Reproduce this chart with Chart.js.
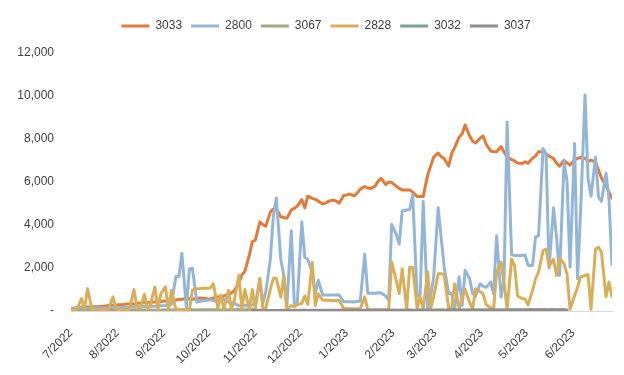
<!DOCTYPE html>
<html>
<head>
<meta charset="utf-8">
<script src="https://cdn.jsdelivr.net/npm/chart.js@4.4.1/dist/chart.umd.min.js"></script>
<style>
    html, body { margin: 0; padding: 0; background: #ffffff; }
    #wrap { width: 624px; height: 375px; }
</style>
</head>
<body>
<div id="wrap"><canvas id="canvas"></canvas></div>
<script>
// trading days, sampled Mon / Wed / Fri, counted from 2022-07-04
var firstDay = '2022-07-04';
var weekCount = 52;
var weekDays = [0, 2, 4];

// month ticks on the date axis
var tickDates = ['2022-07-04', '2022-08-04', '2022-09-04', '2022-10-04', '2022-11-04', '2022-12-04',
    '2023-01-04', '2023-02-04', '2023-03-04', '2023-04-04', '2023-05-04', '2023-06-04'];
var tickLabels = ['7/2022', '8/2022', '9/2022', '10/2022', '11/2022', '12/2022',
    '1/2023', '2/2023', '3/2023', '4/2023', '5/2023', '6/2023'];

var seriesNames = ['3033', '2800', '3067', '2828', '3032', '3037'];

var s3033 = [
    120, 140, 150, 160, 170, 185, 195, 200, 200, 220, 230, 255, 265, 280, 290, 300, 325, 325,
    325, 350, 370, 380, 395, 405, 420, 430, 440, 465, 480, 490, 510, 535, 550, 580, 570, 550,
    580, 605, 590, 570, 560, 605, 650, 675, 700, 770, 840, 950, 1300, 1670, 1840, 2600, 3230, 3300,
    4140, 4020, 3950, 4600, 4740, 4780, 4380, 4350, 4310, 4700, 4770, 4880, 5180, 4800, 5340,
    5240, 5200, 5110, 4980, 5020, 5110, 5160, 5110, 5020, 5370, 5400, 5440, 5350, 5490, 5670,
    5790, 5720, 5700, 5810, 6040, 6170, 5880, 6000, 5980, 5810, 5700, 5630, 5630, 5630, 5530,
    5320, 5320, 5320, 6320, 6740, 7160, 7350, 7180, 7090, 6740, 7330, 7600, 8090, 8230, 8650,
    8140, 7900, 7810, 8040, 8140, 7770, 7440, 7410, 7410, 7650, 7390, 7160, 7040, 6980, 6880,
    6860, 6940, 6870, 7110, 7210, 7410, 7410, 7320, 7210, 7090, 6880, 6740, 7000, 6880, 6790,
    7020, 7100, 7140, 7110, 6940, 7020, 6930, 6560, 6180, 5840, 5530, 5250
];
var s2800 = [
    100, 100, 120, 120, 100, 120, 150, 130, 150, 150, 130, 150, 150, 180, 150, 170, 160, 180,
    200, 180, 200, 220, 200, 230, 220, 250, 240, 260, 280, 300, 1620, 1600, 2680, 150, 1950, 1990,
    420, 450, 480, 500, 520, 480, 450, 500, 560, 420, 380, 350, 250, 200, 280, 220, 300, 250,
    1500, 350, 900, 2400, 4400, 5260, 2400, 1650, 200, 3730, 350, 380, 4150, 2500, 2400,
    1800, 800, 1430, 740, 740, 740, 740, 740, 740, 430, 430, 430, 420, 450, 450,
    2650, 820, 820, 830, 850, 840, 700, 500, 4030, 3570, 3110, 4650, 4700, 4720, 5410,
    660, 750, 5100, 100, 700, 1580, 4800, 3420, 2050, 810, 810, 100, 1580, 250, 1890,
    1500, 810, 700, 1270, 1150, 1100, 1350, 800, 3500, 650, 1500, 8790, 2620, 2580, 2580,
    2580, 2600, 2120, 2120, 3450, 3500, 7560, 7330, 2000, 4800, 3420, 1650, 6950, 6030, 2040,
    7790, 1500, 4550, 10050, 6180, 5340, 7150, 5300, 5100, 6410, 5200, 2150
];
var s3067 = [
    20, 25, 30, 30, 25, 30, 35, 30, 30, 35, 40, 35, 30, 35, 40, 40, 35, 40,
    45, 40, 40, 45, 50, 45, 40, 45, 50, 50, 45, 50, 55, 50, 50, 55, 60, 55,
    50, 55, 60, 60, 55, 60, 55, 50, 55, 60, 55, 60, 65, 60, 55, 60, 65, 60
];
var s2828 = [
    60, 60, 80, 580, 100, 1040, 80, 60, 60, 60, 60, 80, 660, 90, 60, 60, 80, 60,
    1000, 200, 100, 780, 100, 300, 1120, 100, 820, 1120, 80, 970, 80, 60, 60, 80, 60, 970,
    1040, 1040, 1060, 1060, 1070, 1270, 140, 740, 100, 950, 80, 500, 1650, 100, 1000, 80, 1000, 100,
    1520, 100, 150, 1000, 1520, 1520, 650, 1650, 80, 250, 200, 300, 350, 700, 300,
    2270, 250, 800, 500, 500, 500, 480, 500, 490, 120, 120, 110, 100, 100, 100,
    660, 80, 60, 60, 60, 60, 60, 60, 2270, 1430, 810, 1960, 100, 2040, 2040,
    140, 660, 100, 1810, 140, 660, 1730, 1730, 1700, 140, 140, 1270, 100, 600, 1000,
    400, 100, 1040, 900, 800, 300, 150, 100, 1810, 2270, 1300, 100, 2420, 2100, 700,
    580, 550, 280, 960, 1500, 1810, 2810, 2880, 2100, 2400, 1650, 2450, 2200, 1700, 80,
    700, 1100, 1580, 1650, 1700, 80, 2880, 2960, 2730, 660, 1350, 660
];
var s3032 = [
    null, null, null, null, null, null, null, null, null, null, null, null, null, null, null, null, null, null,
    null, null, null, null, null, null, null, null, null, null, null, null, null, null, null, null, null, null,
    null, null, null, null, null, null, null, null, null, null, null, null, null, null, null, null, 10, 10,
    10, 15, 15, 15, 10, 15, 15, 20, 15, 15, 20, 20, 15, 20, 20, 20, 15, 20,
    20, 25, 20, 20, 25, 20, 20, 25, 25, 20, 25, 25, 20, 25, 25, 30, 25, 25,
    30, 25, 30, 30, 25, 30, 30, 30, 25, 30, 35, 30, 30, 35, 30, 30, 35, 35,
    30, 35, 35, 30, 35, 35, 40, 35, 35, 40, 35, 40, 40, 35, 40, 40, 35, 40,
    40, 45, 40, 40, 45, 40, 45, 45, 40, 45, 45, 40, 45, 45, 40, 45
];
var s3037 = [
    null, null, null, null, null, null, null, null, null, null, null, null, null, null, null, null, null, null,
    null, null, null, null, null, null, null, null, null, null, null, null, null, null, null, null, null, null,
    null, null, null, null, null, null, null, null, null, null, null, null, null, null, null, null, 20, 20,
    25, 20, 25, 25, 20, 25, 25, 30, 25, 25, 30, 25, 30, 30, 25, 30, 30, 25, 30,
    30, 35, 30, 30, 35, 30, 35, 35, 30, 35, 35, 30, 35, 35, 40, 35, 35, 40,
    35, 40, 40, 35, 40, 40, 45, 40, 40, 45, 40, 45, 45, 40, 45, 45, 40, 45,
    45, 50, 45, 45, 50, 45, 50, 50, 45, 50, 50, 45, 50, 50, 45, 50, 50, 55,
    50, 50, 55, 50, 55, 55, 50, 55, 55, 50, 55, 55, 50, 55, 55, 50
];

var colors = ['#E07B39', '#93B6D8', '#A3A882', '#D9AE58', '#78A394', '#928B8B'];

function dayNumber(str) {
    var p = str.split('-');
    var a = firstDay.split('-');
    return (Date.UTC(+p[0], p[1] - 1, +p[2]) - Date.UTC(+a[0], a[1] - 1, +a[2])) / 86400000;
}

var days = [];
for (var w = 0; w < weekCount; w++) {
    weekDays.forEach(function (d) { days.push(w * 7 + d); });
}
var tickDays = tickDates.map(dayNumber);

function makeLine(i, values) {
    var pts = [];
    values.forEach(function (v, j) {
        if (v !== null) pts.push({ x: days[j], y: v });
    });
    return {
        label: seriesNames[i],
        data: pts,
        borderColor: colors[i],
        backgroundColor: colors[i],
        borderWidth: 3,
        pointRadius: 0,
        pointHoverRadius: 0,
        tension: 0,
        borderJoinStyle: 'round',
        borderCapStyle: 'round',
        order: 10 - i   // later series drawn on top, like the original
    };
}

document.addEventListener('DOMContentLoaded', function () {
    var canvas = document.getElementById('canvas');
    var textColor = '#404040';
    var font = { family: "'Liberation Sans', Arial, sans-serif", size: 12, weight: 'normal' };

    // legend sits a bit right of centre and leaves room above the plot
    var legendPlace = {
        id: 'legendPlace',
        beforeInit: function (chart) {
            var fit = chart.legend.fit;
            chart.legend.fit = function () {
                fit.call(this);
                this.height = 42;
            };
        },
        afterLayout: function (chart) {
            chart.legend.left += 20;
            chart.legend.right += 20;
        }
    };

    var config = {
        type: 'line',
        data: {
            datasets: [
                makeLine(0, s3033),
                makeLine(1, s2800),
                makeLine(2, s3067),
                makeLine(3, s2828),
                makeLine(4, s3032),
                makeLine(5, s3037)
            ]
        },
        options: {
            responsive: true,
            maintainAspectRatio: false,
            animation: false,
            layout: { padding: { top: 11, right: 12, bottom: 0, left: 0 } },
            plugins: {
                tooltip: { enabled: false },
                legend: {
                    position: 'top',
                    align: 'center',
                    labels: {
                        boxWidth: 28,
                        boxHeight: 3,
                        padding: 9,
                        color: textColor,
                        font: font,
                        generateLabels: function (chart) {
                            return chart.data.datasets.map(function (ds, i) {
                                return {
                                    text: ds.label,
                                    fillStyle: ds.borderColor,
                                    strokeStyle: ds.borderColor,
                                    lineWidth: 0,
                                    hidden: false,
                                    datasetIndex: i,
                                    fontColor: textColor
                                };
                            });
                        }
                    }
                }
            },
            scales: {
                x: {
                    type: 'linear',
                    min: 0,
                    max: days[days.length - 1],
                    grid: { display: false, drawTicks: false },
                    border: { display: true, color: '#D9D9D9' },
                    afterBuildTicks: function (scale) {
                        scale.ticks = tickDays.map(function (v) { return { value: v }; });
                    },
                    afterFit: function (scale) { scale.height = 64; },
                    ticks: {
                        autoSkip: false,
                        minRotation: 45,
                        maxRotation: 45,
                        padding: 15,
                        color: textColor,
                        font: font,
                        callback: function (value, index) { return tickLabels[index]; }
                    }
                },
                y: {
                    min: 0,
                    max: 12000,
                    grid: { display: false, drawTicks: false },
                    border: { display: false },
                    afterFit: function (scale) { scale.width = 71; },
                    ticks: {
                        stepSize: 2000,
                        padding: 17,
                        color: textColor,
                        font: font,
                        callback: function (value) {
                            return value === 0 ? '-' : value.toLocaleString('en-US');
                        }
                    }
                }
            }
        },
        plugins: [legendPlace]
    };

    window.chart = new Chart(canvas, config);
});
</script>
</body>
</html>
